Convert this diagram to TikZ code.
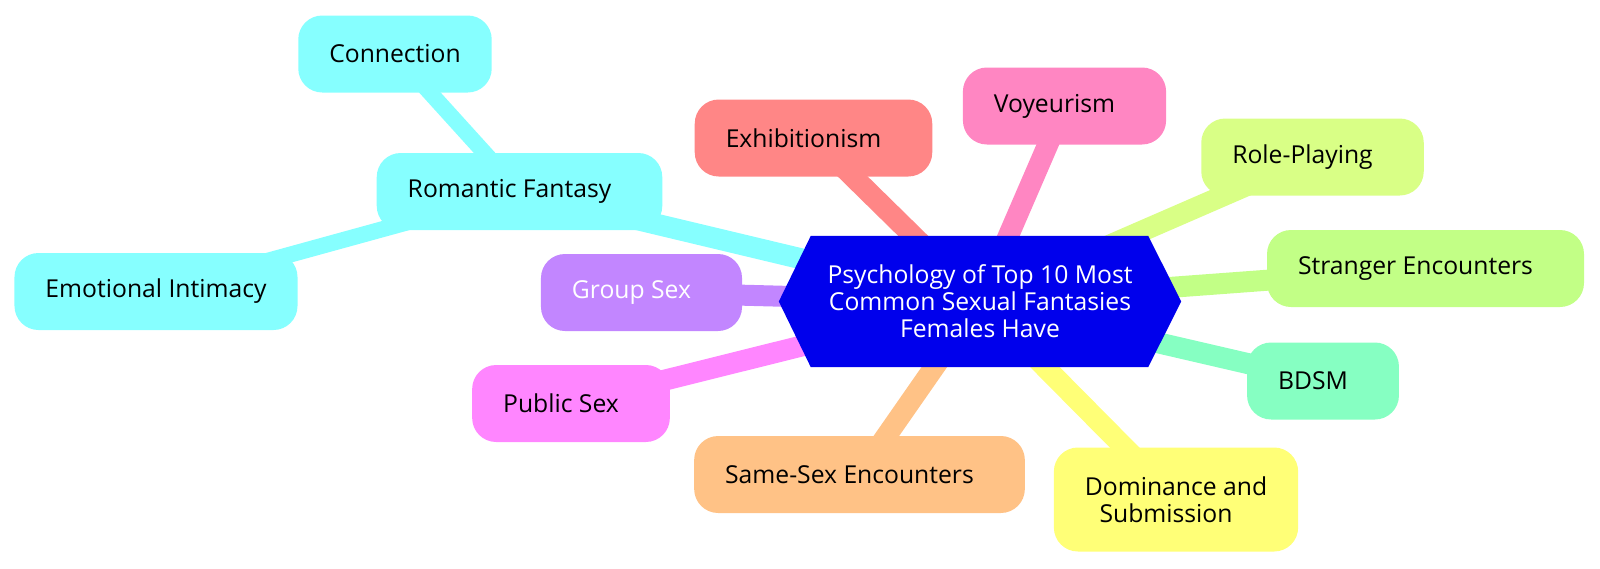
\documentclass[tikz,border=0pt]{standalone}
\usepackage{fontspec}
\setmainfont{Open Sans}
\usetikzlibrary{positioning,calc,backgrounds}
\definecolor{rootblue}{HTML}{0000EC}
\definecolor{cyanleaf}{HTML}{86FFFF}
\definecolor{violetleaf}{HTML}{C286FF}
\definecolor{magentaleaf}{HTML}{FF86FF}
\definecolor{orangeleaf}{HTML}{FFC286}
\definecolor{yellowleaf}{HTML}{FFFF77}
\definecolor{mintleaf}{HTML}{86FFC2}
\definecolor{limeleaf}{HTML}{C2FF86}
\definecolor{paleleaf}{HTML}{D9FF86}
\definecolor{pinkleaf}{HTML}{FF86C2}
\definecolor{redleaf}{HTML}{FF8686}
\pgfdeclarelayer{edges}
\pgfsetlayers{edges,background,main}

\begin{document}
\begin{tikzpicture}[x=1pt,y=-1pt,font=\fontsize{24.7}{27}\selectfont,
  leaf/.style={rounded corners=24pt,minimum height=77pt,inner xsep=31pt,inner ysep=0pt,text=black},
  tail/.style={execute at end node={\hspace*{20pt}}},
  root/.style={minimum width=402pt,minimum height=131pt,inner sep=0pt,align=center,text=white},
  trunk/.style={line width=21pt},
  twig/.style={line width=16pt}]
\useasboundingbox (0,0) rectangle (1600,568);
% --- centre -----------------------------------------------------------
\node[root] (root) at (980,301.5) {Psychology of Top 10 Most\\Common Sexual Fantasies\\Females Have};
\begin{scope}[on background layer]
  \fill[rootblue] (root.west) -- ($(root.north west)+(32,0)$) -- ($(root.north east)+(-33,0)$)
    -- (root.east) -- ($(root.south east)+(-33,0)$) -- ($(root.south west)+(32,0)$) -- cycle;
\end{scope}
% --- leaves -----------------------------------------------------------
\node[leaf,tail,fill=cyanleaf] (rom) at (519.5,191.5) {Romantic Fantasy};
\node[leaf,fill=cyanleaf] (conn) at (395,54) {Connection};
\node[leaf,fill=cyanleaf] (emo) at (156,291.5) {Emotional Intimacy};
\node[leaf,tail,fill=violetleaf,text=white] (group) at (641.5,292.5) {Group Sex};
\node[leaf,tail,fill=magentaleaf] (public) at (571,403.5) {Public Sex};
\node[leaf,tail,fill=orangeleaf] (same) at (859.5,474.5) {Same-Sex Encounters};
\node[leaf,fill=yellowleaf,minimum height=104pt,align=center] (dom) at (1176,499.5) {Dominance and\\Submission\hspace*{20pt}};
\node[leaf,tail,fill=mintleaf] (bdsm) at (1323,381) {BDSM};
\node[leaf,tail,fill=limeleaf] (stranger) at (1425.5,268.5) {Stranger Encounters};
\node[leaf,tail,fill=paleleaf] (role) at (1312.5,157) {Role-Playing};
\node[leaf,tail,fill=pinkleaf] (voy) at (1064.5,106) {Voyeurism};
\node[leaf,tail,fill=redleaf] (exh) at (813.5,138) {Exhibitionism};
% --- branches ---------------------------------------------------------
\begin{pgfonlayer}{edges}
  \foreach \leafname/\col in {rom/cyanleaf, group/violetleaf, public/magentaleaf, same/orangeleaf,
      dom/yellowleaf, bdsm/mintleaf, stranger/limeleaf, role/paleleaf, voy/pinkleaf, exh/redleaf} {
    \draw[trunk,\col] (root.center) -- (\leafname.center);
  }
  \draw[twig,cyanleaf] (rom.center) -- (conn.center);
  \draw[twig,cyanleaf] (rom.center) -- (emo.center);
\end{pgfonlayer}
\end{tikzpicture}
\end{document}
